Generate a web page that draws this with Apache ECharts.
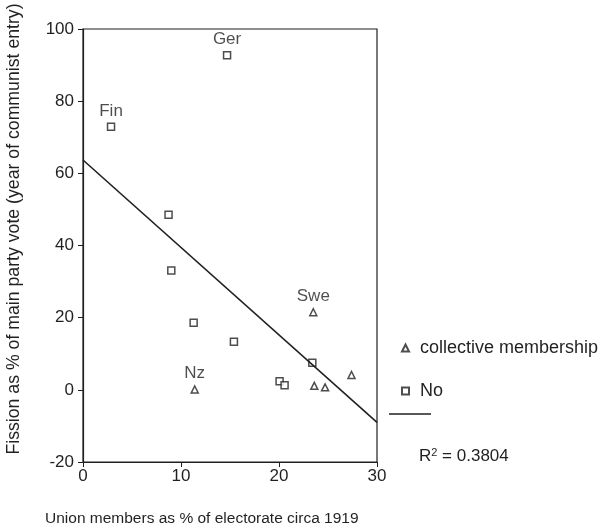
<!DOCTYPE html>
<html>
<head>
<meta charset="utf-8">
<script src="https://cdn.jsdelivr.net/npm/echarts@6/dist/echarts.min.js"></script>
<style>
  * { margin: 0; padding: 0; }
  html, body { background: #fff; }
</style>
</head>
<body>
<div id="chart" style="width: 603px; height: 532px;"></div>
<script>
// data
var xTicks = [0, 10, 20, 30];
var yTicks = [-20, 0, 20, 40, 60, 80, 100];

// "collective membership" (triangles)
var collX = [23.5, 27.4, 23.6, 24.7, 11.4];
var collY = [21.5, 4.1, 1.1, 0.7, 0.1];
var collNames = ['Swe', '', '', '', 'Nz'];

// "No" (squares)
var noX = [14.7, 2.86, 8.73, 9.01, 11.29, 15.4, 23.4, 20.06, 20.57];
var noY = [92.7, 72.9, 48.5, 33.1, 18.6, 13.3, 7.5, 2.35, 1.3];
var noNames = ['Ger', 'Fin', '', '', '', '', '', '', ''];

// linear trend line endpoints
var trendX = [0, 30];
var trendY = [63.7, -9.0];

var ink = '#231f20';
var font = 'Liberation Sans, Arial, sans-serif';

function points(xs, ys, names) {
    return xs.map(function (x, i) {
        var item = { value: [x, ys[i]], name: names[i] };
        if (names[i]) {
            item.label = { show: true, formatter: '{b}', position: 'top', distance: 3,
                color: ink, fontSize: 17, fontFamily: font, textBorderWidth: 0 };
        }
        return item;
    });
}

var option = {
    backgroundColor: '#fff',
    animation: false,
    grid: { left: 83, top: 29, right: 226, bottom: 70, show: true, borderColor: ink, borderWidth: 1.2 },
    xAxis: {
        type: 'value', min: xTicks[0], max: xTicks[xTicks.length - 1], interval: 10,
        splitLine: { show: false },
        axisLine: { onZero: false, lineStyle: { color: ink, width: 1.2 } },
        axisTick: { length: 5, lineStyle: { color: ink } },
        axisLabel: { color: ink, fontSize: 17, fontFamily: font, margin: 6 }
    },
    yAxis: {
        type: 'value', min: yTicks[0], max: yTicks[yTicks.length - 1], interval: 20,
        splitLine: { show: false },
        axisLine: { onZero: false, lineStyle: { color: ink, width: 1.2 } },
        axisTick: { length: 5, lineStyle: { color: ink } },
        axisLabel: { color: ink, fontSize: 17, fontFamily: font, margin: 9 }
    },
    legend: {
        orient: 'vertical', left: 396, top: 334, itemGap: 25,
        itemWidth: 7, itemHeight: 7,
        data: ['collective membership', 'No'],
        textStyle: { color: ink, fontSize: 18, fontFamily: font, padding: [0, 0, 0, 6] }
    },
    series: [
        {
            name: 'collective membership', type: 'scatter', symbol: 'triangle', symbolSize: [7, 7],
            itemStyle: { color: '#fff', borderColor: ink, borderWidth: 1.5 },
            data: points(collX, collY, collNames)
        },
        {
            name: 'No', type: 'scatter', symbol: 'rect', symbolSize: 7,
            itemStyle: { color: '#fff', borderColor: ink, borderWidth: 1.5 },
            data: points(noX, noY, noNames)
        },
        {
            name: 'trend', type: 'line', symbol: 'none',
            lineStyle: { color: ink, width: 1.6 },
            data: trendX.map(function (x, i) { return [x, trendY[i]]; })
        }
    ],
    graphic: [
        { type: 'line', shape: { x1: 389, y1: 414, x2: 431, y2: 414 }, style: { stroke: ink, lineWidth: 1.5 } },
        {
            type: 'text', left: 419, top: 447,
            style: {
                text: '{a|R}{s|2}{a| = 0.3804}',
                rich: {
                    a: { fontSize: 17, fontFamily: font, fill: ink },
                    s: { fontSize: 11, fontFamily: font, fill: ink, verticalAlign: 'top', padding: [0, 0, 8, 0] }
                }
            }
        },
        {
            type: 'text', left: 45, top: 511,
            style: { text: 'Union members as % of electorate circa 1919', fontSize: 15.5, fontFamily: font, fill: ink }
        },
        {
            type: 'text', x: 14, y: 229, rotation: Math.PI / 2,
            style: { text: 'Fission as % of main party vote (year of communist entry)', fontSize: 17.7, fontFamily: font,
                fill: ink, align: 'center', verticalAlign: 'middle' }
        }
    ]
};

var myChart = echarts.init(document.getElementById('chart'));
myChart.setOption(option);
</script>
</body>
</html>
